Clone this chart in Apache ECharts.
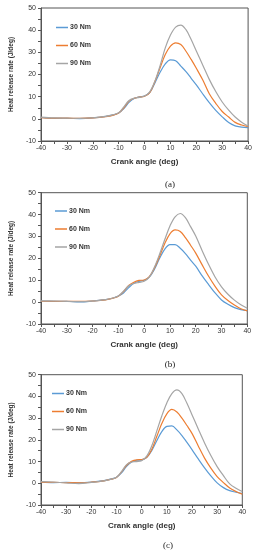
<!DOCTYPE html>
<html><head><meta charset="utf-8">
<script src="https://cdn.jsdelivr.net/npm/echarts@6/dist/echarts.min.js"></script>
<style>html,body{margin:0;padding:0;background:#fff}#c{width:255px;height:550px}</style>
</head><body><div id="c"></div>
<script>
const angles = [-40,-35,-30,-25,-20,-15,-12,-10,-8,-6,-4,-2,0,2,4,6,8,10,12,14,16,18,20,22.5,25,27.5,30,32.5,35,37.5,40];
const seriesNames = ['30 Nm','60 Nm','90 Nm'];
const panelLabels = ['(a)','(b)','(c)'];
const xTicks = {min:-40, max:40, interval:10};
const yTicks = {min:-10, max:50, interval:10};

// Panel (a)
const a30 = [0.6,0.2,0.2,0.1,0.4,1.1,1.8,2.6,4.6,7.4,9.2,9.9,10.3,11.8,16.2,21,24.8,26.6,26.2,23.8,21.3,18.3,15.3,11.2,7.3,3.8,0.9,-1.7,-3.2,-3.7,-4.0];
const a60 = [0.5,0.3,0.3,0.2,0.4,1.0,1.7,2.6,5.0,8.0,9.3,9.8,10.2,11.8,16.8,23,29,32.8,34.3,33.5,30.5,26.8,22.8,17.5,11.3,7,3.3,0.8,-1.6,-2.8,-3.5];
const a90 = [0.8,0.4,0.3,0.2,0.5,1.1,1.9,2.7,5.4,8.3,9.3,9.7,10.3,12.2,17,24,32,37.8,41.4,42.3,40.2,35.8,30.6,24.2,17.8,12.3,7.6,3.9,0.8,-1.5,-3.2];
// Panel (b)
const b30 = [0.5,0.3,0.4,0.1,0.5,1.1,1.9,2.8,4.2,6.6,8.6,9.5,10,11.4,15,20,24.2,26.3,26.3,24.6,22.2,19.2,16.4,12,8,4.2,1,-1,-2.5,-3.4,-3.9];
const b60 = [0.4,0.4,0.3,0.3,0.5,1.0,1.8,2.7,4.8,7.6,9.1,9.9,10.1,11.6,15.6,21,26.8,31.2,33,32.3,29.5,26,22.4,17,11.8,7.2,3.3,0.7,-1.3,-3,-4];
const b90 = [0.6,0.5,0.3,0.2,0.5,1.1,1.9,2.8,5,7.5,8.5,9,9.5,11.4,16,22,28.6,34.8,39,40.5,38.6,34.5,30.2,23.5,17.2,11.5,7,3.6,0.9,-1.2,-2.8];
// Panel (c)
const c30 = [0.5,0.3,0.4,0.2,0.5,1.2,2,2.8,4.8,7.8,9.8,10.6,10.8,11.8,15,19.6,23.8,26.2,26.4,24.6,22,18.8,15.5,11.2,7.1,3.4,0.2,-2,-3.4,-4.1,-4.8];
const c60 = [0.5,0.4,0.3,0.2,0.5,1.1,1.9,2.7,5.2,8.3,10.1,10.8,10.9,11.9,15.6,21.5,27.5,32,34,32.8,30,26.6,23,17.2,11.6,7,3.1,0.3,-2.2,-3.8,-5];
const c90 = [0.8,0.5,0.2,-0.2,0.4,1.1,1.9,2.8,5.4,8.6,9.8,10,10.4,12.5,17.2,24,31,37,41.3,43,41.3,36.8,31.6,25,18.6,12.8,7.7,3.5,-0.3,-2.3,-3.8];

const panels = [[a30,a60,a90],[b30,b60,b90],[c30,c60,c90]];
const colors = ['#5B9BD5','#ED7D31','#A5A5A5'];
const grids = [
  {left:31, width:219.7, top:8, height:133},
  {left:29.3, width:218, top:192.7, height:131.3},
  {left:26.7, width:215.6, top:374.7, height:130.3}
];
const legendPos = [{left:51, top:18.5},{left:50, top:202},{left:47, top:384.5}];
const labelPos = [{x:165, y:181},{x:165, y:361},{x:163, y:542}];
const font = 'Liberation Sans, Arial, sans-serif';
const axisLine = {show:true, onZero:false, lineStyle:{color:'#555', width:1}};

const option = {
  animation:false,
  backgroundColor:'#fff',
  textStyle:{fontFamily:font},
  grid: grids.map(g=>Object.assign({show:true, borderColor:'#555', borderWidth:1, backgroundColor:'transparent'}, g)),
  xAxis: grids.map((g,i)=>({
    type:'value', gridIndex:i, min:xTicks.min, max:xTicks.max, interval:xTicks.interval,
    name:'Crank angle (deg)', nameLocation:'middle', nameGap:17,
    nameTextStyle:{fontSize:8, fontWeight:'bold', color:'#333', fontFamily:font},
    axisLine:axisLine, axisTick:{show:true, inside:false, length:3, lineStyle:{color:'#555'}},
    minorTick:{show:true, splitNumber:2, length:3, lineStyle:{color:'#555'}},
    splitLine:{show:false},
    axisLabel:{fontSize:7, color:'#333', margin:4, fontFamily:font}
  })),
  yAxis: grids.map((g,i)=>({
    type:'value', gridIndex:i, min:yTicks.min, max:yTicks.max, interval:yTicks.interval,
    name:'Heat release rate (J/deg)', nameLocation:'middle', nameGap:[21,20,20.5][i], nameRotate:90,
    nameTextStyle:{fontSize:6.5, fontWeight:'bold', color:'#333', fontFamily:font},
    axisLine:axisLine, axisTick:{show:true, inside:false, length:3, lineStyle:{color:'#555'}},
    minorTick:{show:true, splitNumber:2, length:3, lineStyle:{color:'#555'}},
    splitLine:{show:false},
    axisLabel:{fontSize:7, color:'#333', margin:5, fontFamily:font}
  })),
  legend: legendPos.map(p=>({
    left:p.left, top:p.top, orient:'vertical', data:seriesNames, icon:'rect',
    itemWidth:12, itemHeight:1.5, itemGap:10, selectedMode:false,
    textStyle:{fontSize:7, lineHeight:8, fontWeight:'bold', color:'#333', padding:[0,0,0,-3], fontFamily:font}
  })),
  title: labelPos.map((p,i)=>({
    text:panelLabels[i], left:p.x, top:p.y-6, textAlign:'center',
    textStyle:{fontSize:9, fontWeight:'normal', color:'#222', fontFamily:'Liberation Serif, serif'}
  })),
  series: []
};
panels.forEach((arrs,pi)=>{
  arrs.forEach((vals,si)=>{
    option.series.push({
      type:'line', name:seriesNames[si], xAxisIndex:pi, yAxisIndex:pi,
      data: angles.map((x,k)=>[x, vals[k]]),
      smooth:0.35, showSymbol:false, symbol:'none',
      lineStyle:{color:colors[si], width:1.2}, itemStyle:{color:colors[si]}, z:2+si
    });
  });
});
const chart = echarts.init(document.getElementById('c'), null, {renderer:'canvas'});
chart.setOption(option);
</script></body></html>
